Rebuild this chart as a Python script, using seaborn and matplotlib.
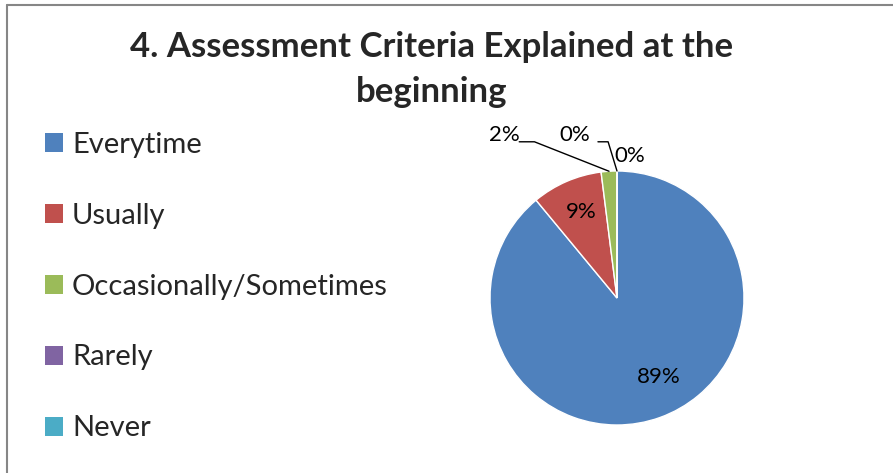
import numpy as np
import seaborn as sns
import matplotlib.pyplot as plt
from matplotlib.patches import Patch
from matplotlib.lines import Line2D

# Data
categories = ["Everytime", "Usually", "Occasionally/Sometimes", "Rarely", "Never"]
percent = [89, 9, 2, 0, 0]
colors = ["#4F81BD", "#C0504D", "#9BBB59", "#8064A2", "#4BACC6"]

sns.set_theme(style="white")
plt.rcParams["font.family"] = ["Lato", "DejaVu Sans"]

W, H = 893, 473
fig = plt.figure(figsize=(W / 100, H / 100), dpi=100)

# pie axes: center (617, 298) px, radius 127 px
cx, cy, r = 617, 298, 127
ax = fig.add_axes([(cx - r) / W, (H - cy - r) / H, 2 * r / W, 2 * r / H])
wedges, _ = ax.pie(percent, colors=colors, startangle=90, counterclock=False,
                   radius=1, wedgeprops=dict(linewidth=1, edgecolor="white"))
ax.set_xlim(-1, 1)
ax.set_ylim(-1, 1)
ax.set_aspect("equal")
ax.axis("off")

# label text positions (in pie units) and optional leader lines
label_pos = [(0.33, -0.62), (-0.28, 0.68), (-0.89, 1.28), (-0.33, 1.28), (0.10, 1.12)]
leader = [None, None, (-0.65, -0.77), (-0.07, -0.15), None]
for i, (w, p) in enumerate(zip(wedges, percent)):
    tx, ty = label_pos[i]
    ax.text(tx, ty, f"{p}%", ha="center", va="center", fontsize=16, color="black")
    if leader[i] is not None:
        mid = np.deg2rad((w.theta1 + w.theta2) / 2)
        ex, ey = np.cos(mid), np.sin(mid)
        ly = ty - 0.05
        ax.plot([ex, leader[i][0], leader[i][1]], [ey, ly, ly], color="black",
                lw=1, clip_on=False)

# title
fig.text(432 / W, 1 - 47 / H, "4. Assessment Criteria Explained at the",
         ha="center", va="center", fontsize=25, fontweight="bold")
fig.text(432 / W, 1 - 92 / H, "beginning",
         ha="center", va="center", fontsize=25, fontweight="bold")

# legend
handles = [Patch(facecolor=c, edgecolor="none") for c in colors]
fig.legend(handles, categories, loc="upper left", bbox_to_anchor=(33 / W, 1 - 120 / H),
           frameon=False, fontsize=21, handlelength=0.62, handleheight=0.62,
           handletextpad=0.32, labelspacing=1.54, borderaxespad=0)

# chart-area border (left and top edges)
fig.add_artist(Line2D([7 / W, 7 / W], [0, 1 - 5 / H], color="#868686", lw=1.5))
fig.add_artist(Line2D([7 / W, 1], [1 - 5 / H, 1 - 5 / H], color="#868686", lw=1.5))

fig.savefig("out.png", dpi=100)
